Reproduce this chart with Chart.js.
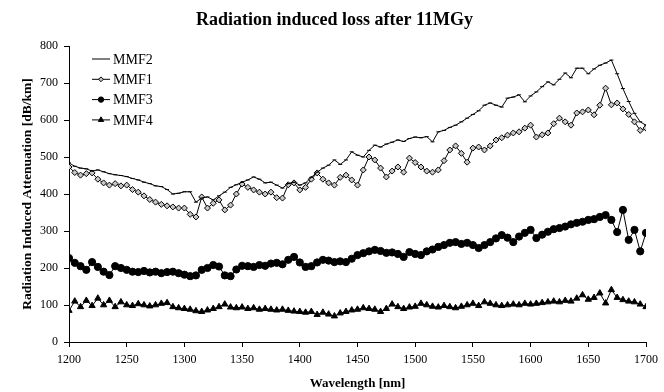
<!DOCTYPE html>
<html>
<head>
<meta charset="utf-8">
<script src="https://cdn.jsdelivr.net/npm/chart.js@4/dist/chart.umd.min.js"></script>
<style>
  body { margin: 0; background: #fff; }
  #grafica { display: block; }
</style>
</head>
<body>
<canvas id="grafica" width="664" height="392"></canvas>
<script>
// wavelength axis, 5 nm steps from 1200 to 1700
var longitudes = [];
for (var w = 1200; w <= 1700; w += 5) longitudes.push(w);

var series = ['MMF2', 'MMF1', 'MMF3', 'MMF4'];

var mmf2 = [484,475,470,468,462,465,460,455,452,450,447,442,438,432,428,422,420,412,400,402,
            406,406,378,389,392,384,395,405,418,425,432,438,446,440,430,432,424,416,428,432,
            424,430,445,459,470,478,492,480,492,514,505,500,518,532,527,535,540,546,542,550,
            554,552,555,541,568,572,580,586,595,605,615,625,640,646,640,635,659,662,668,649,
            665,676,690,703,695,710,727,714,740,740,725,738,748,754,762,725,685,650,618,595,586];

var mmf1 = [473,458,451,455,457,440,430,424,428,422,424,412,405,395,385,378,372,368,365,362,
            362,345,338,392,362,375,384,357,370,400,427,418,411,405,400,405,390,389,425,430,
            411,418,440,457,440,430,424,445,451,438,424,465,500,492,470,446,462,473,459,497,
            485,473,462,459,465,490,519,530,510,486,524,527,519,530,546,552,559,565,568,578,
            586,554,560,565,590,605,595,586,619,622,627,614,640,686,641,646,630,615,595,572,578];

var mmf3 = [227,214,205,195,216,203,190,181,205,200,195,190,189,192,188,190,186,189,190,186,
            182,178,180,195,200,208,204,180,178,196,206,205,203,208,206,212,214,210,222,230,
            215,203,205,215,222,220,216,218,216,225,235,240,245,249,246,241,242,238,230,243,
            238,235,245,250,257,262,268,270,265,268,262,254,262,270,280,289,282,270,285,295,
            303,281,290,298,305,308,312,318,322,325,330,332,338,343,330,297,357,276,303,245,295];

var mmf4 = [85,110,95,112,98,118,100,112,95,108,100,98,103,100,97,100,104,106,95,92,
            90,88,84,82,86,90,95,102,94,92,94,90,92,88,90,88,86,88,85,83,
            82,80,82,74,80,75,70,78,82,86,88,92,90,88,82,90,102,95,90,94,
            96,104,100,96,94,98,95,92,96,100,104,98,108,104,100,98,100,102,100,104,
            102,104,106,108,110,108,112,110,118,127,115,120,132,105,141,120,114,110,108,102,95];

var valores = [mmf2, mmf1, mmf3, mmf4];
var marcadores = ['line', 'rectRot', 'circle', 'triangle'];
var radios = [2, 3, 3.6, 3.6];
var rellenos = ['#000', '#c8c8c8', '#000', '#000'];

var fuente = "'Liberation Serif', 'Times New Roman', serif";

function puntos(v) {
  var p = [];
  for (var i = 0; i < longitudes.length; i++) p.push({x: longitudes[i], y: v[i]});
  return p;
}

var datasets = [];
for (var i = 0; i < series.length; i++) {
  datasets.push({
    label: series[i],
    data: puntos(valores[i]),
    borderColor: '#000',
    borderWidth: 1,
    pointStyle: marcadores[i],
    pointRadius: radios[i],
    pointBackgroundColor: rellenos[i],
    pointBorderColor: '#000',
    pointBorderWidth: 1,
    tension: 0
  });
}

// marker drawing for the in-plot legend
function marcador(ctx, tipo, x, y, r, relleno) {
  ctx.save();
  ctx.strokeStyle = '#000';
  ctx.fillStyle = relleno;
  ctx.lineWidth = 1;
  ctx.beginPath();
  if (tipo == 'circle') {
    ctx.arc(x, y, r * 0.75, 0, Math.PI * 2);
    ctx.fill(); ctx.stroke();
  } else if (tipo == 'rectRot') {
    r = r * 0.8;
    ctx.moveTo(x, y - r); ctx.lineTo(x + r, y); ctx.lineTo(x, y + r); ctx.lineTo(x - r, y);
    ctx.closePath(); ctx.fill(); ctx.stroke();
  } else if (tipo == 'triangle') {
    r = r * 0.85;
    ctx.moveTo(x, y - r); ctx.lineTo(x + r * 0.87, y + r * 0.5); ctx.lineTo(x - r * 0.87, y + r * 0.5);
    ctx.closePath(); ctx.fill(); ctx.stroke();
  }
  ctx.restore();
}

var leyenda = {
  id: 'leyenda',
  afterDatasetsDraw: function (chart) {
    var ctx = chart.ctx;
    ctx.save();
    ctx.font = '14px ' + fuente;
    ctx.textBaseline = 'middle';
    ctx.fillStyle = '#000';
    for (var i = 0; i < chart.data.datasets.length; i++) {
      var ds = chart.data.datasets[i];
      var y = 59 + i * 20.3;
      ctx.strokeStyle = '#000';
      ctx.lineWidth = 1;
      ctx.beginPath();
      ctx.moveTo(92, y); ctx.lineTo(110, y);
      ctx.stroke();
      marcador(ctx, ds.pointStyle, 101, y, ds.pointRadius, ds.pointBackgroundColor);
      ctx.fillText(ds.label, 113, y + 1);
    }
    ctx.restore();
  }
};

var graficar = document.getElementById('grafica').getContext('2d');

var grafico = new Chart(graficar, {
  type: 'line',
  data: { datasets: datasets },
  plugins: [leyenda],
  options: {
    responsive: false,
    animation: false,
    devicePixelRatio: 1,
    layout: { padding: { left: 19, right: 14, top: 0, bottom: 0 } },
    plugins: {
      legend: { display: false },
      tooltip: { enabled: false },
      title: {
        display: true,
        text: 'Radiation induced loss after 11MGy',
        color: '#000',
        font: { family: fuente, size: 18, weight: 'bold' },
        padding: { top: 9.2, bottom: 15.2 }
      }
    },
    scales: {
      x: {
        type: 'linear',
        min: 1200,
        max: 1700,
        ticks: {
          stepSize: 50, color: '#000', font: { family: fuente, size: 12 }, padding: 6, maxRotation: 0,
          callback: function (v) { return String(v); }
        },
        grid: { drawOnChartArea: false, color: '#000', tickLength: 5 },
        border: { color: '#000', width: 1 },
        title: {
          display: true,
          text: 'Wavelength [nm]',
          color: '#000',
          font: { family: fuente, size: 13, weight: 'bold' },
          padding: { top: 4, bottom: 1 }
        },
        afterFit: function (scale) { scale.height = 50; }
      },
      y: {
        min: 0,
        max: 800,
        ticks: { stepSize: 100, color: '#000', font: { family: fuente, size: 12 }, padding: 6 },
        grid: { drawOnChartArea: false, color: '#000', tickLength: 5 },
        border: { color: '#000', width: 1 },
        title: {
          display: true,
          text: 'Radiation Induced Attenuation [dB/km]',
          color: '#000',
          font: { family: fuente, size: 13.5, weight: 'bold' },
          padding: { top: 0, bottom: 4 }
        },
        afterFit: function (scale) { scale.width = 50; }
      }
    }
  }
});
</script>
</body>
</html>
